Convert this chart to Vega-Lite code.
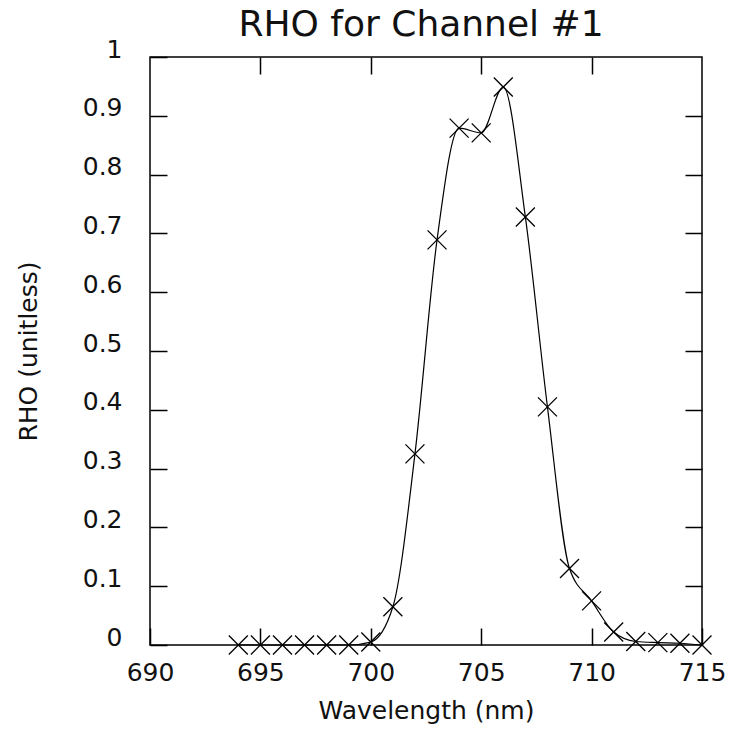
{
  "$schema": "https://vega.github.io/schema/vega-lite/v6.json",
  "autosize": "none",
  "width": 552,
  "height": 588,
  "padding": {"left": 150, "top": 57, "right": 27, "bottom": 95},
  "background": "white",
  "title": {"text": "RHO for Channel #1", "fontSize": 36, "font": "DejaVu Sans", "fontWeight": "normal", "color": "#111", "anchor": "middle", "offset": -35, "baseline": "alphabetic", "dx": -5},
  "config": {
    "view": {"stroke": "black", "strokeWidth": 1.5},
    "axis": {"labelFont": "DejaVu Sans", "titleFont": "DejaVu Sans", "labelColor": "#111", "titleColor": "#111", "titleFontWeight": "normal", "grid": false, "domain": false, "tickColor": "black", "tickWidth": 1.5}
  },
  "resolve": {"axis": {"x": "independent", "y": "independent"}},
  "data": {"values": [
    {"wl": 694, "rho": 0.0},
    {"wl": 695, "rho": 0.0},
    {"wl": 696, "rho": 0.0},
    {"wl": 697, "rho": 0.0},
    {"wl": 698, "rho": 0.0},
    {"wl": 699, "rho": 0.0},
    {"wl": 700, "rho": 0.005},
    {"wl": 701, "rho": 0.065},
    {"wl": 702, "rho": 0.325},
    {"wl": 703, "rho": 0.689},
    {"wl": 704, "rho": 0.879},
    {"wl": 705, "rho": 0.871},
    {"wl": 706, "rho": 0.949},
    {"wl": 707, "rho": 0.728},
    {"wl": 708, "rho": 0.405},
    {"wl": 709, "rho": 0.13},
    {"wl": 710, "rho": 0.075},
    {"wl": 711, "rho": 0.022},
    {"wl": 712, "rho": 0.006},
    {"wl": 713, "rho": 0.004},
    {"wl": 714, "rho": 0.003},
    {"wl": 715, "rho": 0.0}
  ]},
  "layer": [
    {
      "mark": {"type": "line", "interpolate": "monotone", "color": "black", "strokeWidth": 1.2},
      "encoding": {
        "x": {"field": "wl", "type": "quantitative", "scale": {"domain": [690, 715], "nice": false, "zero": false},
          "axis": {"orient": "bottom", "title": "Wavelength (nm)", "values": [690, 695, 700, 705, 710, 715], "tickSize": -17, "labelPadding": 32, "labelFontSize": 25, "titleFontSize": 25, "titlePadding": 13, "labelFlush": false}},
        "y": {"field": "rho", "type": "quantitative", "scale": {"domain": [0, 1], "nice": false},
          "axis": {"orient": "left", "title": "RHO (unitless)", "values": [0, 0.1, 0.2, 0.3, 0.4, 0.5, 0.6, 0.7, 0.8, 0.9, 1], "format": "~g", "tickSize": -17, "labelPadding": 45, "labelBaseline": "alphabetic", "labelFontSize": 25, "titleFontSize": 25, "titlePadding": 41}}
      }
    },
    {
      "mark": {"type": "point", "shape": "M-1,-1L1,1M-1,1L1,-1", "size": 360, "filled": false, "color": "black", "strokeWidth": 1.3, "opacity": 1},
      "encoding": {
        "x": {"field": "wl", "type": "quantitative", "scale": {"domain": [690, 715], "nice": false, "zero": false},
          "axis": {"orient": "top", "title": null, "values": [695, 700, 705, 710], "tickSize": -17, "labels": false}},
        "y": {"field": "rho", "type": "quantitative", "scale": {"domain": [0, 1], "nice": false},
          "axis": {"orient": "right", "title": null, "values": [0.1, 0.2, 0.3, 0.4, 0.5, 0.6, 0.7, 0.8, 0.9], "tickSize": -17, "labels": false}}
      }
    }
  ]
}
